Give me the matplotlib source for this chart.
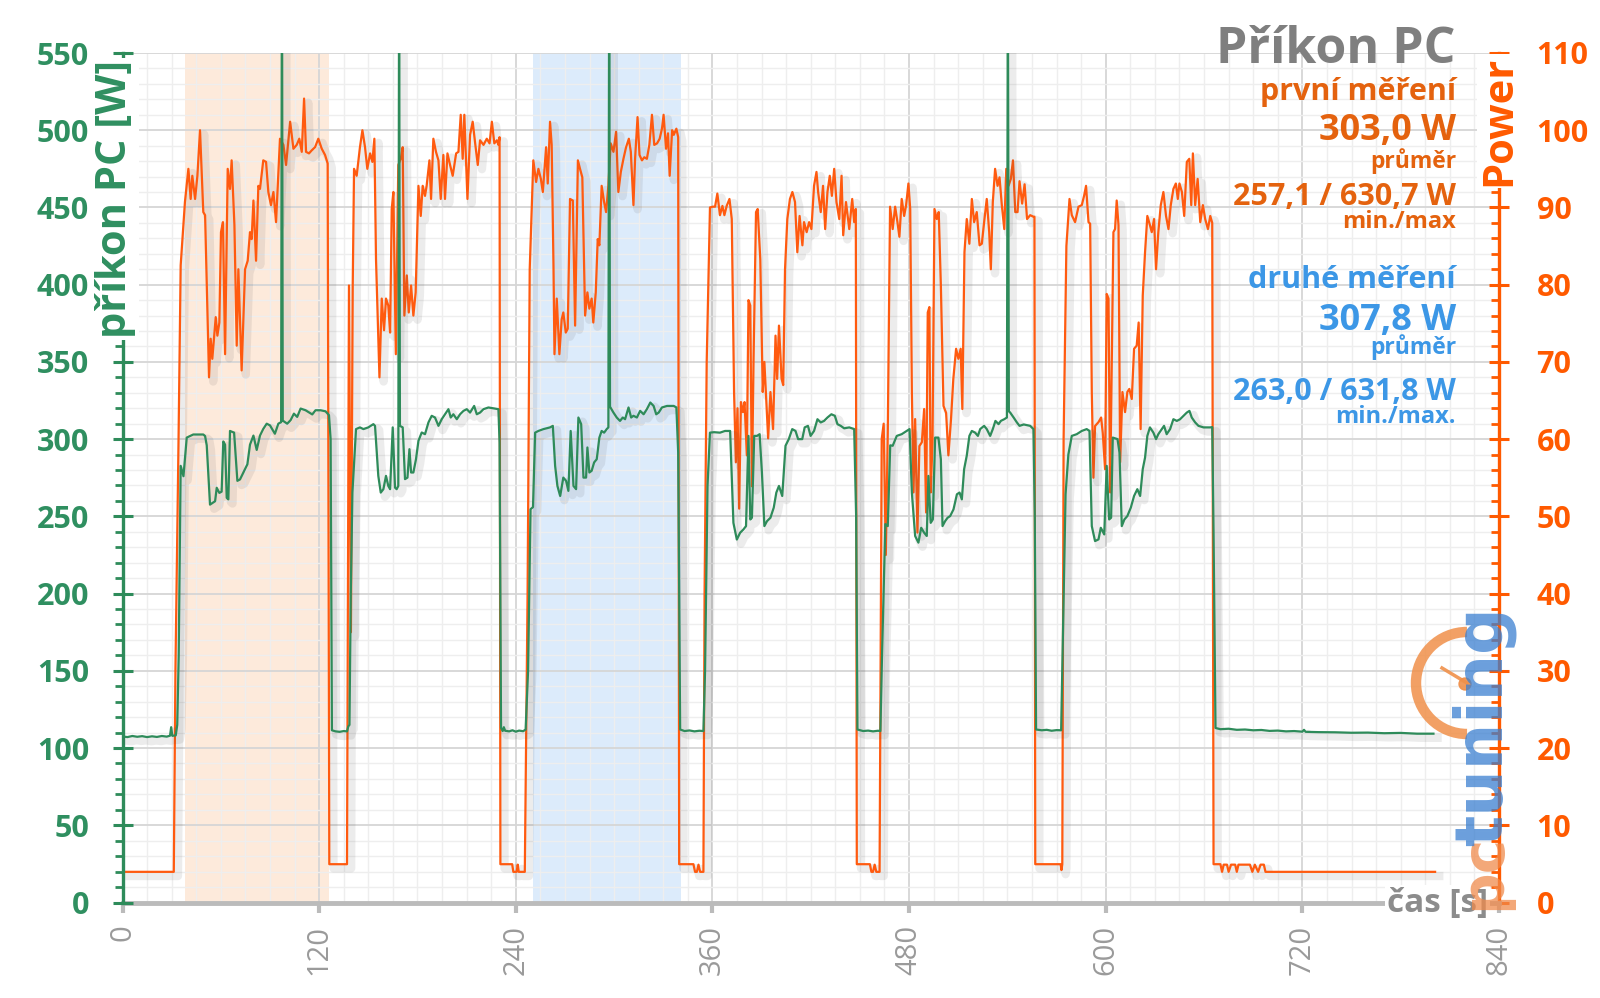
import matplotlib
matplotlib.use("Agg")
import matplotlib.pyplot as plt
import matplotlib.patheffects as pe
from matplotlib.patches import Arc, Circle
from matplotlib.transforms import IdentityTransform
from matplotlib.ticker import MultipleLocator

plt.rcParams['font.family'] = ['Open Sans', 'DejaVu Sans']

# first measurement, PC power [W] (left axis)
green_t = [0, 3, 6, 9, 12, 15, 18, 21, 24, 27, 29, 29.7, 30.4, 32.5, 33.4, 34.3, 35.5, 37.2, 39.2, 43.2,
           49.3, 50.4, 51.4, 53.4, 56.5, 57.5, 59.1, 60.5, 61.5, 62.6, 63.6, 64.6, 65.6, 68.1, 70.1, 71.7,
           73.7, 76.2, 77.8, 79.9, 81.9, 83.9, 85.9, 88, 90, 93, 95.1, 96.8, 97.3, 97.8, 100.5, 102.6,
           104.6, 106.6, 108.7, 111.7, 115.8, 117.8, 120.9, 123.9, 126, 127, 127.8,
           130, 132.5, 135, 137, 137.8, 138.5, 139.3, 140.3, 142.5, 144.9, 147, 150, 153.1, 154.1, 156.1,
           157.6, 159.2, 160.8, 162.2, 163.3, 164.9, 166.3, 167.3, 168.3, 168.8, 169.3, 171, 172.4, 173.9,
           175.1, 176.1, 177.5, 179.1, 180.6, 182.6, 184.6, 186.7, 188.7, 190.7, 192.8, 194.8, 196.8, 198.9,
           200.3, 201.9, 204, 206, 208.1, 210.1, 212.1, 214.6, 216.2, 218.2, 220.3, 223.3, 227.4, 229.4,
           230.1, 231,
           232, 232.7, 233.5, 236, 238, 240, 242, 244.5, 246, 247.5, 249, 250.5, 251.8, 253.8, 256.9, 260.9,
           262.6, 264, 265.4, 267.1, 269, 270.7, 272.1, 273.5, 275.2, 276.8, 278.2, 279.9, 281.3, 282.9,
           283.7, 284.9, 286.3, 287.8, 289.4, 291, 292.4, 293.9, 295.5, 296.5, 297, 297.5, 299.6, 301.6,
           303.6, 305.3, 306.7, 308.8, 310.4, 311.8, 313.9, 315.9, 318, 320, 322.1, 324.1, 325.7, 327.2,
           329.2, 332.3, 336.4, 338, 339.1, 340.3,
           343, 346, 349, 352, 354.5, 355.5, 357, 358.5, 361, 364.6, 367.7, 370.8, 372.8, 374.9, 376.9,
           378.9, 380.5, 382, 383.1, 384.1, 385.5, 387.2, 388.8, 390.2, 391.7, 393.3, 395.4, 397.4, 399,
           400.6, 402.6, 404.6, 406.6, 408.7, 410.7, 412.3, 414.8, 416.3, 418.3, 419.9, 422, 424.1, 426.1,
           428.1, 430.2, 432.6, 434.7, 436.3, 438.3, 440.4, 443.5, 446.5, 447.7, 448.5,
           452, 455, 458, 461, 462.5, 463.5, 465.5, 467, 468.5, 470, 472.5, 475.5, 478.6, 480.3, 481.7,
           483.7, 485.7, 487.4, 489.2, 490.8, 491.8, 493.2, 494.5, 495.9, 497.9, 499.4, 500.4, 502, 503.5,
           505.1, 507.1, 509.2, 510.8, 512.2, 513.6, 515.2, 516.8, 518.3, 520.3, 522, 523.4, 525.8, 527.4,
           529.5, 531.1, 532.7, 534.6, 536, 538.1, 539.7, 540.3, 540.9, 541.7, 543.8, 545.8, 547.4, 550,
           553.9, 555.9, 556.7, 557.5,
           561, 564, 567, 570, 572.8, 574, 575.5, 577.2, 579.3, 582.3, 585.4, 588.4, 590.1, 591.5, 593.5,
           595.6, 597, 599.1, 600.6, 602.1, 603.3, 604.3, 607.2, 608.4, 609.8, 611.4, 613.2, 615.3, 617.3,
           619.3, 621, 622.6, 624, 625.4, 627, 629.1, 630.7, 632.1, 634.2, 635.6, 637.2, 639.3, 641.3,
           643.4, 645.4, 647.5, 649.5, 651.1, 652.5, 654.6, 656.6, 659.7, 663.8, 665, 665.8, 667,
           670, 675, 680, 685, 690, 695, 700, 705, 710, 715, 720, 721, 722, 730, 740, 750, 760, 770, 780,
           790, 800]
green_w = [107.5, 107.1, 107.8, 107.3, 107.7, 107.1, 107.6, 107.2, 107.8, 107.4, 108, 113.5, 107.9, 108.2,
           115, 160, 282.7, 276, 301, 303,
           303, 302, 296, 257.6, 259.8, 268.5, 265.2, 266, 298.5, 296.4, 262, 261, 305.3, 304.2, 273, 273.9,
           278.3, 283.7, 296.4, 302.3, 293, 302.3, 306.6, 310, 308.9, 303.5, 310, 311, 630.7, 312, 310, 312.3,
           316.5, 314.4, 319.8, 318.7, 316, 318.7, 318.7, 318, 315.5, 300, 111.5,
           110.8, 110.5, 111, 110.8, 114, 115, 200, 265.4, 306.5, 307.6, 306.5, 307.6, 309.7, 308.6, 276.2,
           265.4, 267.6, 276.2, 269.7, 267.6, 307.6, 268.6, 267.6, 269.7, 612, 308.6, 307.6, 274.1, 275.1,
           293.5, 278.4, 278.4, 287, 298.9, 304.3, 303.2, 310.8, 315.1, 314, 308.6, 312.9, 316.1, 319.4,
           314, 316.1, 312.9, 316.1, 318.3, 319.4, 317.2, 321.5, 316.1, 317.2, 319.4, 320.5, 319.8, 319.4,
           297.8, 113,
           111, 113.5, 111.2, 110.8, 111.5, 110.6, 111.3, 110.9, 112, 150, 254.6, 256, 304.2, 305.3, 306.5,
           307.6, 308.6, 282.7, 269.7, 263.2, 275.1, 273, 266.5, 305.3, 269.7, 267.6, 314, 309.7, 275.1,
           275.1, 294.6, 278.4, 279.5, 284.9, 287, 301, 305.3, 304.2, 306.5, 307.6, 620, 321, 317.2, 314,
           311.8, 314, 312.9, 320.5, 314, 315.1, 314, 318.3, 316.1, 319.4, 323.7, 321.5, 316.1, 317.2,
           320.5, 321.5, 321.5, 320.5, 291.3, 112,
           111, 111.4, 110.8, 111.2, 111, 150, 269.7, 304.2, 304.5, 304.2, 305.3, 305.3, 245.8, 235, 239.4,
           241.5, 243.7, 302.1, 248, 249.1, 302.1, 302.1, 303.2, 278.4, 243.7, 246.9, 249.1, 255.6, 265.4,
           269.7, 263.2, 295.7, 300, 306.5, 305.3, 300, 300, 307.6, 308.6, 302.1, 305.3, 312.9, 310.8,
           311.8, 314, 316.1, 315.1, 309.7, 308.6, 307, 307.6, 306.5, 250, 112,
           111, 111.3, 110.8, 111.2, 111, 160, 245, 243.7, 296, 295.7, 302.1, 303.2, 305.3, 306.5, 265.4,
           237.3, 233, 242.6, 239.4, 237.3, 276.2, 245.8, 248, 301, 301, 287, 243.7, 246.9, 249.1,
           250.2, 254.5, 264.3, 265.4, 261, 280.6, 289.3, 302.1, 305.3, 304.2, 302.1, 306.5, 308.6, 306.5,
           302.1, 306.5, 311.8, 309.7, 311.8, 312.9, 314, 600, 318, 317.2, 314, 310.8, 308.6, 309.5,
           308.6, 306.5, 250, 112,
           111.5, 111.8, 111.2, 111.6, 111.5, 180, 264.3, 290, 302.1, 303.2, 305.3, 306.5, 305.3, 243.7, 234,
           235.1, 242.6, 238.3, 282.7, 248, 249.1, 301, 300, 291.3, 243.7, 248, 250.2, 255.6, 263.2,
           267.6, 263.2, 280.6, 288, 302.1, 307.6, 304.2, 300, 303.2, 306.5, 308.6, 303.2, 306.5, 312.9,
           311.8, 312.9, 315.1, 317.2, 318.3, 314, 310.8, 308.6, 307.6, 307.6, 307.8, 240, 113,
           112.2, 112.5, 111.8, 112, 111.5, 111.7, 111.1, 111.3, 110.8, 111, 110.6, 111.8, 110.5, 110.3,
           110.2, 109.9, 110, 109.6, 109.8, 109.3, 109.3]

# second series, "Power" (right axis)
orange_t = [0, 31.3, 32.3, 34.2, 35.5, 38.1, 40.2, 41.6, 42.6, 44.3, 45.7, 47.3, 49.3, 50.4, 52.8, 53.8, 54.8,
            56.9, 57.9, 59.1, 60.1, 61.3, 62.6, 64.2, 65.6, 66.6, 68.3, 69.7, 70.7, 72.7, 74.8, 76.4, 77.8,
            78.8, 79.9, 81.5, 82.9, 83.9, 85.9, 87.6, 89, 90.6, 92.1, 93.7, 96.1, 98.2, 99.8, 102.3, 104.3,
            106.3, 107.9, 109.4, 110.8, 112, 113.8, 115.5, 117.5, 119.5, 121.6, 123.6, 125.2, 126.2,
            137, 138.2, 139.4, 140.5, 141.3, 142.9, 144.9, 146.4, 148, 149.4, 151.1, 152.5, 153.7, 154.7,
            156.8, 158.2, 159.6, 160.8, 162.2, 163.3, 164.3, 165.3, 166.8, 168.3, 169.8, 171, 172, 173.5,
            174.7, 176.1, 177.5, 178.9, 180.6, 182, 183.2, 184.6, 185.6, 187.3, 188.3, 189.7, 191.3, 192.8,
            194.2, 195.8, 196.8, 198.3, 199.9, 201.5, 203.6, 205, 206.4, 207.6, 208.6, 210.5, 212.1, 213.7,
            215.1, 216.8, 218.2, 220.3, 222.3, 224, 225.4, 226.9, 228.5, 229.4, 230.1, 230.6,
            237.8, 238.5, 240.5, 241.2, 241.8, 245.5, 247.2, 248.5, 250.7, 252.4, 253.8, 255.3, 256.5,
            258.5, 259.5, 260.9, 261.9, 263, 263.6, 265, 266.6, 268, 269, 270.5, 271.7, 273.1, 274.8,
            276.2, 277.9, 279.2, 280.6, 282.3, 283.7, 284.9, 286.3, 287.3, 288.8, 290, 291, 292.4, 293.9,
            295.1, 296.5, 297.9, 299.6, 301.2, 302.6, 304.1, 305.7, 307.3, 309, 310.2, 311.8, 312.8, 314.3,
            315.5, 317, 318.4, 320, 321.5, 323.1, 324.5, 326.2, 327.8, 329.2, 330.2, 331.7, 332.9, 333.9,
            335.4, 336.4, 338, 339.1, 339.7,
            348.4, 349.4, 350.5, 351.5, 352.5, 354.5, 355.2, 356.5, 358.5, 360.2, 361.6, 363, 364.6, 366.1,
            367.3, 368.7, 370.4, 371.8, 373.2, 374.3, 375.3, 376.3, 377.4, 378.6, 379.6, 381, 382, 383.1,
            384.1, 385.1, 386.6, 387.6, 389.2, 390.7, 391.7, 392.9, 394, 395.4, 397, 398.5, 399.5, 400.6,
            402.2, 403.2, 404.3, 405.7, 407.3, 408.8, 410.4, 411.8, 413.2, 414.9, 415.9, 417.5, 419, 420.4,
            422, 423.5, 424.5, 426.1, 427.5, 428.8, 430.2, 431.6, 432.9, 434.3, 435.7, 437.4, 438.8, 439.8,
            441.5, 443.5, 445.3, 446.5, 447.5, 448.1,
            456.1, 457, 458, 459, 460, 462, 463.3, 464.5, 465.8, 467, 468.4, 470, 471.5, 472.9, 474.1,
            475.5, 477, 478.2, 479.6, 480.7, 481.7, 482.7, 483.7, 485.1, 486.3, 487.8, 489.2, 490.4, 491.4,
            492.4, 493.2, 494.3, 495.5, 496.9, 498.1, 499.4, 501, 502.6, 504, 505.6, 507, 508.7, 510.1,
            511.5, 512.5, 513.8, 515.2, 516.8, 518.3, 519.7, 521.3, 523, 524.4, 525.8, 527.4, 528.9, 529.9,
            531.1, 532.5, 534, 535.2, 536.6, 538.1, 539.3, 540.7, 542.1, 543.4, 544.8, 546.2, 547.4, 549,
            550.5, 552, 553.9, 555.9, 556.5, 557,
            572.5, 573, 573.5, 574.3, 576, 577.9, 579.3, 581.3, 583.4, 585.4, 586.8, 588, 589.5, 590.5,
            591.5, 592.5, 593.5, 595.6, 597.2, 598.2, 599.6, 600.6, 601.7, 602.7, 603.7, 604.7, 605.7,
            606.7, 607.8, 608.8, 610.2, 611.8, 613.2, 614.4, 615.9, 617.3, 618.9, 620.1, 621.3, 622.6, 624,
            625.4, 627, 628.1, 629.5, 630.7, 632.1, 633.6, 635.2, 636.8, 638.3, 639.7, 641.3, 642.8, 644,
            645, 646.5, 647.9, 649.5, 651, 652.2, 653.2, 654.6, 656.1, 657.7, 659.3, 660.7, 662.4, 663.8,
            665, 665.8,
            670, 671, 672, 674, 675, 676.5, 679, 680, 681, 688, 689.5, 691, 693, 694.5, 696.5, 697.5, 801]
orange_p = [3.97, 3.97, 30, 60, 82.5, 90.7, 95, 91.1, 94.1, 91.1, 94.1, 100, 89.4, 89, 68, 73, 70.4,
            75.8, 73.4, 75.1, 86.8, 88.1, 71, 95, 92.4, 96.1, 87.7, 72.1, 82, 68.9, 82, 83.1, 86.8,
            85.9, 90.9, 83.1, 92.8, 92.4, 96.1, 95.9, 92, 90.3, 92, 88.1, 98.9, 98.1, 95.5, 101.1, 97.6,
            98.1, 98.9, 97.2, 104.1, 97.2, 97, 97.4, 97.8, 98.9, 97.6, 96.8, 95.7, 4.96,
            4.96, 79.9, 35, 80, 95, 94.1, 97.8, 100, 97.8, 95, 97, 95.9, 98.9, 83.3,
            68, 78.2, 74.1, 78.2, 77.3, 73.8, 89.8, 92, 71, 95.5, 96.3, 97.8, 76, 81.2,
            76.4, 79.9, 76, 79, 92.8, 88.9, 92.8, 91.5, 92.8, 96.1, 91.1, 98.9, 97.2, 96.1,
            91.1, 96.8, 91.1, 97, 95.5, 94.1, 97, 97.2, 102, 96.3, 102, 91.1, 99.4, 101.1,
            98.5, 95.5, 98.7, 98.1, 98.9, 98.3, 101.1, 98.3, 98.7, 98.1, 99.1, 4.96,
            4.96, 3.97, 3.97, 4.9, 3.97, 3.97, 40, 82, 96.1, 93.3, 95, 93.7, 92,
            97.8, 93.1, 101.1, 98.1, 82.5, 71, 78.2, 71, 75.5, 76.4, 73.8, 74.3, 91.1, 90.9,
            74.7, 96.1, 95, 93.9, 76, 79, 76.9, 78.2, 75.1, 79, 85.9, 85.1, 92.8, 90.7,
            89.4, 92.8, 98.3, 97.2, 99.8, 92, 94.6, 96.3, 97.8, 98.9, 97.2, 90.3, 96.3, 101.7,
            96.8, 96.1, 96.5, 96.3, 98.1, 102, 98.1, 98.3, 98.9, 100.2, 102, 97.6, 99.6, 94.1,
            100, 99.4, 100.2, 99.1, 4.96,
            4.96, 3.97, 3.97, 4.9, 3.97, 3.97, 40, 70, 90, 90.1, 90.1, 91.8, 89, 90.2,
            89, 90.2, 91.1, 88.5, 66.1, 57, 64, 51, 64.8, 63.5, 64.8, 57.9, 78, 77.3,
            53.9, 70.4, 89.4, 89.8, 83.3, 66.1, 70, 64.8, 60.1, 66.1, 61.3, 73.4, 67.8, 74.7,
            67.8, 67, 82, 88.5, 91.1, 92, 90.7, 84.2, 88.9, 85.1, 88.1, 86.8, 88.1, 87.2,
            92.8, 94.6, 92, 89.4, 92.8, 87.2, 92, 94.1, 91.5, 95, 90.7, 88.5, 94.1, 86.4,
            90.7, 87.2, 91.1, 88.1, 89.8, 4.96,
            4.96, 3.97, 3.97, 4.9, 3.97, 3.97, 60, 62, 45, 60.8, 90.1, 87.2, 90.1, 88.1, 86.2,
            91.1, 88.9, 90.3, 93.1, 89.8, 66.1, 53.1, 62.6, 47.9, 59.1, 59.6, 63.9, 50.5, 76.4,
            77.1, 53.1, 59.6, 89.8, 88.5, 89.4, 79.9, 64.3, 63.4, 57.9, 62.6, 67.8, 71.7, 70.4,
            71.7, 63.9, 84.2, 88.5, 85.3, 91.1, 88.1, 89.4, 85.1, 85.3, 88.1, 91.1, 86.8, 82,
            90.7, 95, 92.8, 93.9, 90.3, 87.2, 95, 92.8, 93.7, 96.1, 89.4, 89.4, 93.4, 90.5,
            93, 88.5, 89, 88.8, 88.8, 4.96,
            4.96, 4.2, 4.96, 60, 85, 91.1, 89, 88.1, 90.1, 90.3, 91.5, 92.8, 88.1, 87.9,
            66.1, 55, 61.7, 62.2, 62.8, 60.8, 56.1, 78.8, 78.2, 53.1, 70.4, 86.8, 87.2,
            90.9, 87.7, 57, 66.1, 63.5, 66.1, 66.5, 65.2, 71.7, 72.1, 75.1, 61.3, 78.6, 84.2,
            88.9, 87.7, 86.8, 88.5, 82, 86.8, 90.3, 92, 88.9, 87.2, 90.3, 92.4, 93.1, 91.1,
            93.1, 92, 88.9, 95.9, 96.3, 90.3, 97, 90.3, 93.7, 88.1, 90.3, 88.5, 87.2, 88.9,
            88, 4.96,
            4.96, 3.97, 4.9, 4.9, 3.97, 4.9, 4.9, 3.97, 4.9, 4.9, 3.97, 4.9, 3.97, 4.9, 4.9, 3.97, 3.97]

band_first = (38.0, 126.3)
band_second = (250.6, 340.7)

x_ticks = list(range(0, 841, 120))
left_ticks = list(range(0, 551, 50))
right_ticks = list(range(0, 111, 10))

title_txt = "Příkon PC"
first_lines = ["první měření", "303,0 W", "průměr", "257,1 / 630,7 W", "min./max"]
second_lines = ["druhé měření", "307,8 W", "průměr", "263,0 / 631,8 W", "min./max."]

GREEN = "#2e8b5a"
GREEN_TXT = "#2f8f60"
ORANGE = "#ff5a0f"
ORANGE_AX = "#ff5a00"
ORANGE_TXT = "#e4620e"
BLUE_TXT = "#3c97e6"
GRAY = "#9a9a9a"

W, H = 1600, 998
fig = plt.figure(figsize=(16, 9.98), dpi=100)
ax = fig.add_axes([122.5 / W, (H - 902.5) / H, 1376.5 / W, 849.5 / H])
axl = ax.twinx()
ax.yaxis.tick_right()
axl.yaxis.tick_left()

shadow = [pe.SimpleLineShadow(offset=(3, -3), shadow_color='0.3', alpha=0.1, linewidth=6), pe.Normal()]

# bands, grid and orange series on the base axes
ax.set_axisbelow(True)
ax.axvspan(*band_first, color="#fdeadb", zorder=0.2, lw=0)
ax.axvspan(*band_second, color="#dcebfb", zorder=0.2, lw=0)
ax.plot(orange_t, orange_p, color=ORANGE, lw=1.6, zorder=3, path_effects=shadow)
ax.set_xlim(0, 840)
ax.set_ylim(0, 110)
ax.set_xticks(x_ticks)
ax.set_xticklabels([str(v) for v in x_ticks], rotation=90, color=GRAY, fontsize=21)
ax.xaxis.set_minor_locator(MultipleLocator(15))
ax.set_yticks(right_ticks)
ax.set_yticklabels([str(v) for v in right_ticks], color=ORANGE_AX, fontsize=22, fontweight='bold')
ax.yaxis.set_minor_locator(MultipleLocator(2))
ax.grid(True, which='major', color='#d6d6d6', lw=1.3)
ax.grid(True, which='minor', color='#eeeeee', lw=1.0)
ax.tick_params(axis='x', which='major', length=7, width=3, color='#bbbbbb', pad=9)
ax.tick_params(axis='x', which='minor', length=0)
ax.tick_params(axis='y', which='major', direction='inout', length=15, width=2.2, color=ORANGE_AX, pad=19.5)
ax.tick_params(axis='y', which='minor', direction='in', length=6, width=2, color=ORANGE_AX)
for side in ['top', 'left']:
    ax.spines[side].set_visible(False)
ax.spines['right'].set_color(ORANGE_AX)
ax.spines['right'].set_linewidth(2.4)
ax.spines['bottom'].set_color('#bbbbbb')
ax.spines['bottom'].set_linewidth(3.5)

# green series on the left axis
axl.plot(green_t, green_w, color=GREEN, lw=1.6, zorder=3, path_effects=shadow)
axl.set_ylim(0, 550)
axl.set_yticks(left_ticks)
axl.set_yticklabels([str(v) for v in left_ticks], color=GREEN_TXT, fontsize=22, fontweight='bold')
axl.yaxis.set_minor_locator(MultipleLocator(10))
axl.tick_params(axis='y', which='major', direction='inout', length=15, width=2.2, color=GREEN, pad=16.5)
axl.tick_params(axis='y', which='minor', direction='out', length=6, width=2, color=GREEN)
for side in ['top', 'right', 'bottom']:
    axl.spines[side].set_visible(False)
axl.spines['left'].set_color(GREEN)
axl.spines['left'].set_linewidth(2.4)

# axis labels with white backing
box = dict(facecolor='white', edgecolor='none', pad=1.5)
fig.text(116 / W, 1 - 60 / H, "příkon PC [W]", rotation=90, ha='center', va='top', color=GREEN_TXT,
         fontsize=30, fontweight='bold', bbox=box, zorder=5)
fig.text(1500 / W, 1 - 56 / H, "Power", rotation=90, ha='center', va='top', color=ORANGE_AX,
         fontsize=30, fontweight='bold', bbox=box, zorder=5)
fig.text(1488 / W, 1 - 903 / H, "čas [s]", ha='right', va='center', color='#8c8c8c',
         fontsize=24, fontweight='bold', bbox=box, zorder=5)

# watermark logo, semi-transparent on top
fig.text(1484 / W, 1 - 910 / H, "pc", rotation=90, ha='center', va='bottom', color='#f08a4b',
         alpha=0.75, fontsize=42, fontweight='bold', family='DejaVu Sans', zorder=6)
fig.text(1484 / W, 1 - 846 / H, "tuning", rotation=90, ha='center', va='bottom', color='#3a7fd0',
         alpha=0.75, fontsize=47, fontweight='bold', family='DejaVu Sans', zorder=6)
cx, cy = 1467, H - 683
fig.patches.append(Arc((cx, cy), 102, 102, theta1=90, theta2=270, color='#f0904a', lw=7.5, alpha=0.85,
                       transform=IdentityTransform()))
fig.lines.append(plt.Line2D([cx, cx - 25], [cy, cy + 15], color='#f0904a', lw=2.5, alpha=0.9,
                            transform=IdentityTransform()))
fig.patches.append(Circle((cx - 2, cy - 1), 6, color='#f0904a', alpha=0.9, transform=IdentityTransform()))

# title and summary block
xr = 1456 / W
fig.text(xr, 1 - 63 / H, title_txt, ha='right', va='baseline', color='#7f7f7f', fontsize=36, fontweight='bold')
sizes = [22, 26, 16.5, 22, 17]
base_first = [100, 140, 168, 205, 228]
base_second = [288, 330, 354, 400, 423]
for txt, fs, b in zip(first_lines, sizes, base_first):
    fig.text(xr, 1 - b / H, txt, ha='right', va='baseline', color=ORANGE_TXT, fontsize=fs, fontweight='bold')
for txt, fs, b in zip(second_lines, sizes, base_second):
    fig.text(xr, 1 - b / H, txt, ha='right', va='baseline', color=BLUE_TXT, fontsize=fs, fontweight='bold')

fig.savefig("out.png", dpi=100)
